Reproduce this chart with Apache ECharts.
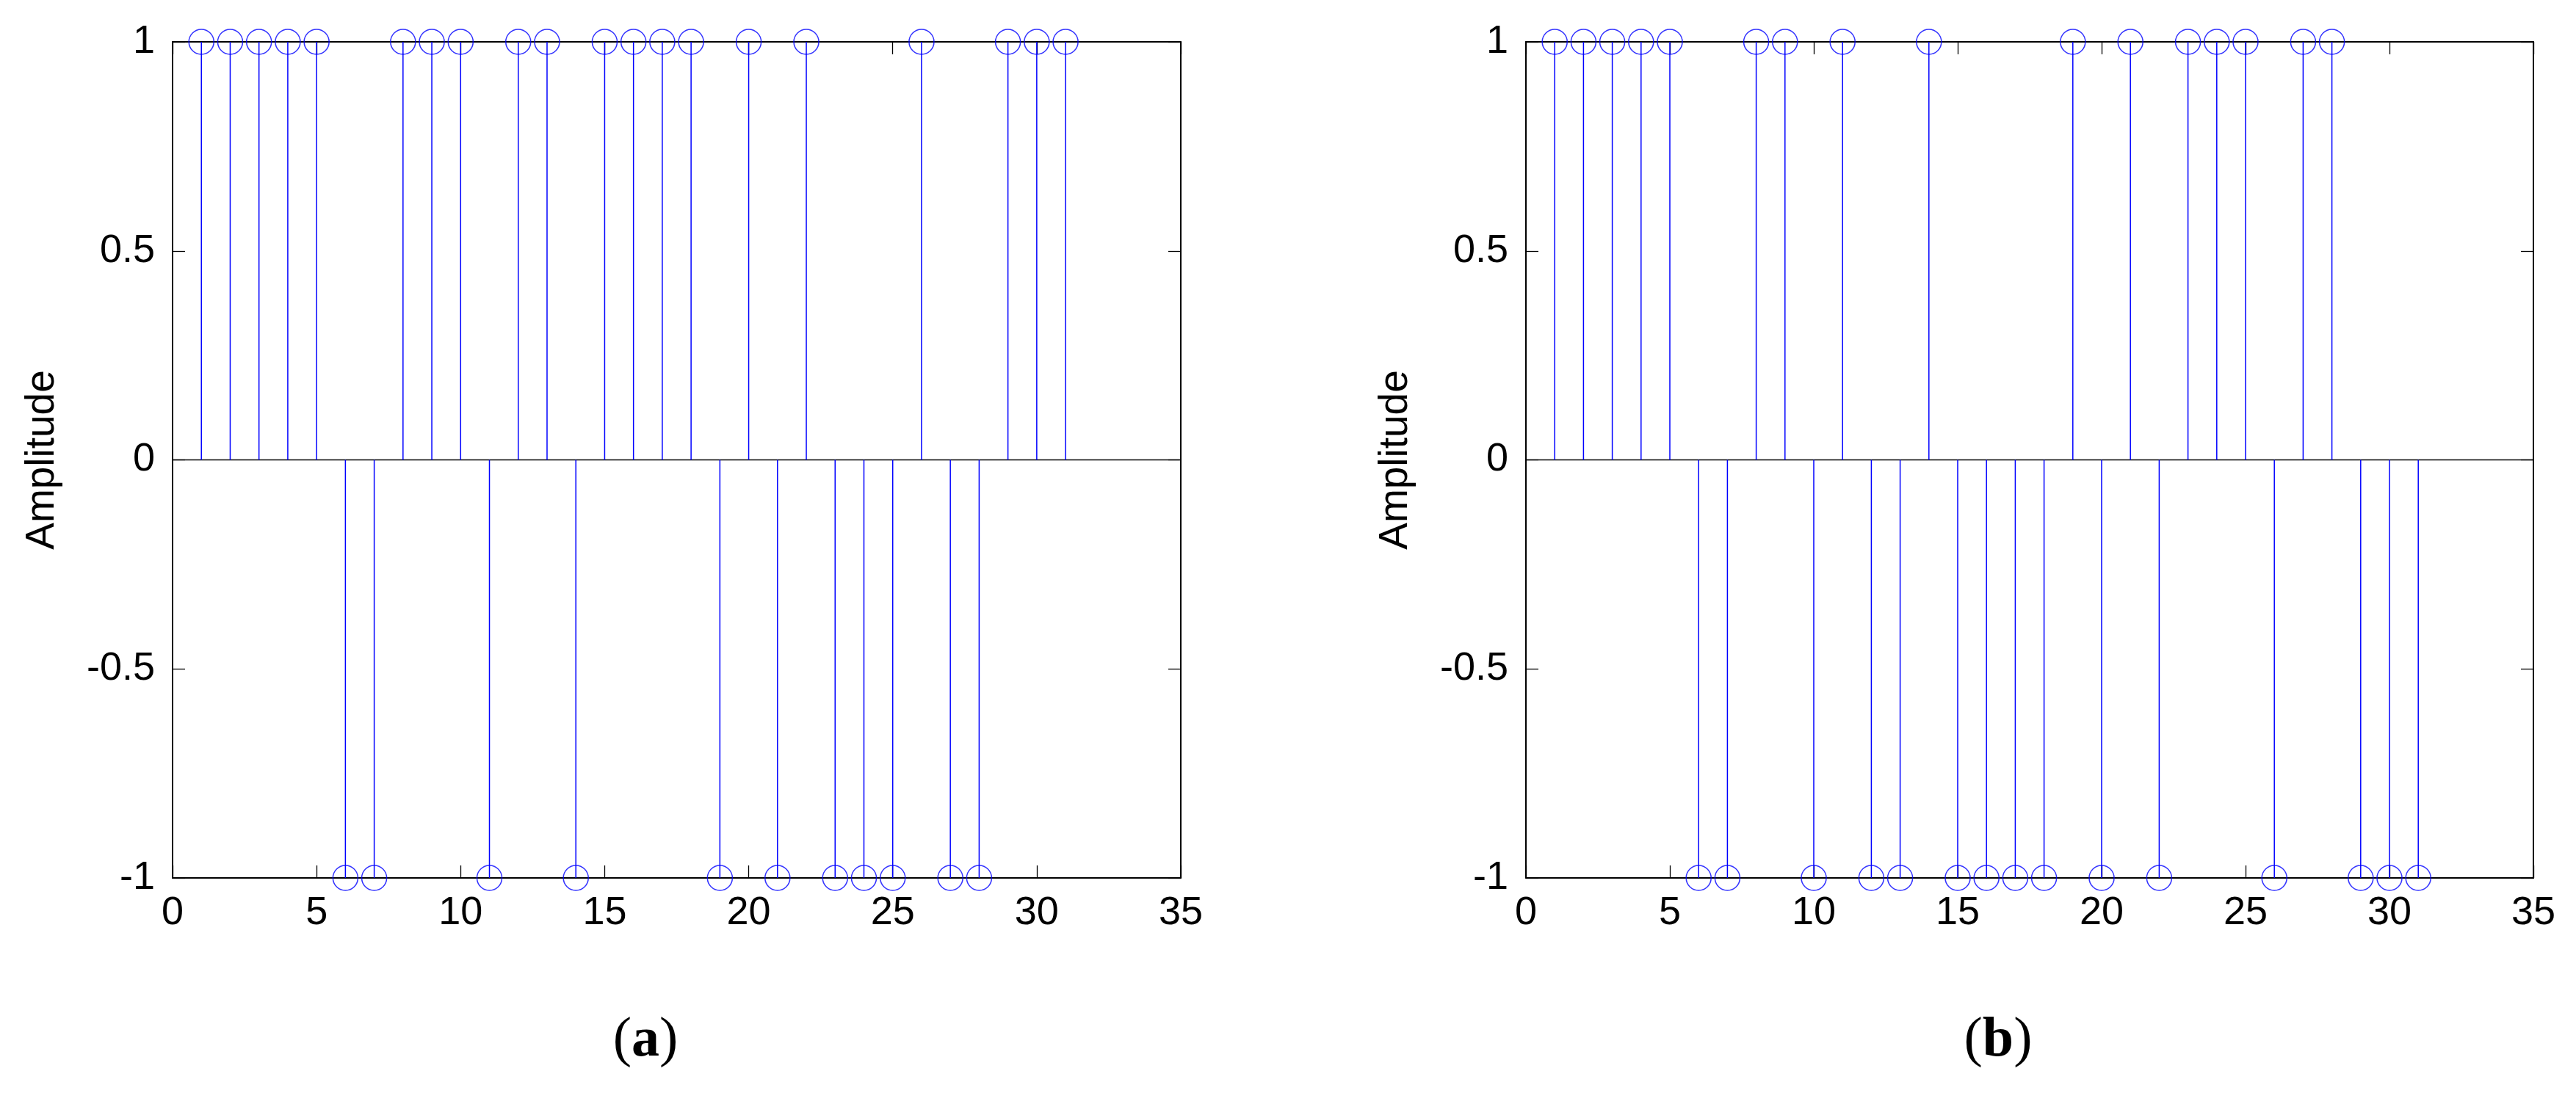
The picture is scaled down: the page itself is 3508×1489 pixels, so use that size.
<!DOCTYPE html>
<html>
<head>
<meta charset="utf-8">
<script src="https://cdn.jsdelivr.net/npm/echarts@6/dist/echarts.min.js"></script>
<style>
html,body{margin:0;padding:0;background:#fff;}
#chart{width:3508px;height:1489px;}
</style>
</head>
<body>
<div id="chart"></div>
<script>
// sample index n
const n = [1,2,3,4,5,6,7,8,9,10,11,12,13,14,15,16,17,18,19,20,21,22,23,24,25,26,27,28,29,30,31];
// (a) amplitudes
const ampA = [1,1,1,1,1,-1,-1,1,1,1,-1,1,1,-1,1,1,1,1,-1,1,-1,1,-1,-1,-1,1,-1,-1,1,1,1];
// (b) amplitudes
const ampB = [1,1,1,1,1,-1,-1,1,1,-1,1,-1,-1,1,-1,-1,-1,-1,1,-1,1,-1,1,1,1,-1,1,1,-1,-1,-1];
// axis ticks
const xTicks = [0,5,10,15,20,25,30,35];
const yTicks = [-1,-0.5,0,0.5,1];
const panelLabels = ['a','b'];

const BLUE = '#0000ff';
const FONT = 'Liberation Sans, Arial, Helvetica, sans-serif';

const chart = echarts.init(document.getElementById('chart'), null, {renderer:'canvas'});

const grids = [
  {left:235, top:57, width:1373, height:1139},
  {left:2078, top:57, width:1372, height:1139}
];

function xAxisDef(g, pos){
  return {
    gridIndex:g, type:'value', position:pos,
    min:xTicks[0], max:xTicks[xTicks.length-1], interval:xTicks[1]-xTicks[0],
    axisLine:{show:true, onZero:false, lineStyle:{color:'#000', width:2}},
    axisTick:{show:true, inside:true, length:17, lineStyle:{color:'#000', width:1.3}},
    axisLabel:{show:pos==='bottom', color:'#000', fontSize:54, fontFamily:FONT, margin:21},
    splitLine:{show:false}
  };
}
function yAxisDef(g, pos){
  const d = {
    gridIndex:g, type:'value', position:pos,
    min:yTicks[0], max:yTicks[yTicks.length-1], interval:yTicks[1]-yTicks[0],
    axisLine:{show:true, onZero:false, lineStyle:{color:'#000', width:2}},
    axisTick:{show:true, inside:true, length:17, lineStyle:{color:'#000', width:1.3}},
    axisLabel:{show:pos==='left', color:'#000', fontSize:54, fontFamily:FONT, margin:24},
    splitLine:{show:false}
  };
  if(pos==='left'){
    d.name='Amplitude'; d.nameLocation='middle'; d.nameRotate=90; d.nameGap=150;
    d.nameTextStyle={color:'#000', fontSize:55, fontFamily:FONT};
  }
  return d;
}

function stemRender(params, api){
  const x = api.value(0), y = api.value(1);
  const p0 = api.coord([x,0]);
  const p1 = api.coord([x,y]);
  return {type:'line', shape:{x1:p0[0], y1:p0[1], x2:p1[0], y2:p1[1]},
          style:{stroke:BLUE, lineWidth:1.5}};
}

const datasets = [ampA, ampB];
const series = [];
datasets.forEach((amp, i) => {
  const pts = n.map((v,k)=>[v, amp[k]]);
  series.push({
    type:'line', xAxisIndex:2*i, yAxisIndex:2*i, symbol:'none', silent:true,
    data:[[xTicks[0],0],[xTicks[xTicks.length-1],0]],
    lineStyle:{color:'#000', width:1.3}, z:1
  });
  series.push({
    type:'custom', xAxisIndex:2*i, yAxisIndex:2*i, renderItem:stemRender,
    data:pts, encode:{x:0, y:1}, silent:true, z:2, clip:false
  });
  series.push({
    type:'scatter', xAxisIndex:2*i, yAxisIndex:2*i, data:pts,
    symbol:'circle', symbolSize:34, clip:false, silent:true, z:3,
    itemStyle:{color:'rgba(0,0,0,0)', borderColor:BLUE, borderWidth:1.5}
  });
});

const labelX = [879, 2721];
const graphics = panelLabels.map((t,i)=>({
  type:'text', x:labelX[i], y:1418,
  style:{
    text:'{p|(}{b|'+t+'}{p|)}',
    textAlign:'center', textVerticalAlign:'middle',
    rich:{
      p:{fontFamily:'Liberation Serif, Times New Roman, serif', fontSize:76, fill:'#000', fontWeight:'normal'},
      b:{fontFamily:'Liberation Serif, Times New Roman, serif', fontSize:76, fill:'#000', fontWeight:'bold'}
    }
  }
}));

chart.setOption({
  animation:false,
  backgroundColor:'#fff',
  grid:grids,
  xAxis:[xAxisDef(0,'bottom'), xAxisDef(0,'top'), xAxisDef(1,'bottom'), xAxisDef(1,'top')],
  yAxis:[yAxisDef(0,'left'), yAxisDef(0,'right'), yAxisDef(1,'left'), yAxisDef(1,'right')],
  series:series,
  graphic:graphics
});
</script>
</body>
</html>
